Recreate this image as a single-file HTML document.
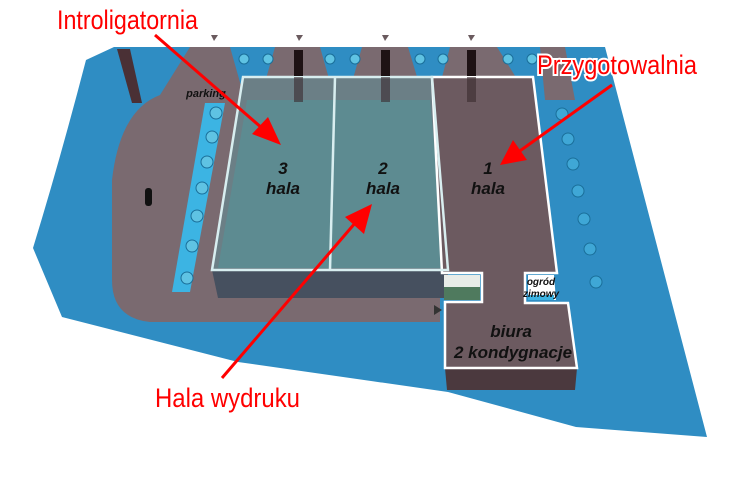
<!DOCTYPE html>
<html><head><meta charset="utf-8"><style>
html,body{margin:0;padding:0;background:#fff;width:742px;height:480px;overflow:hidden}
svg{display:block}
.lbl{font-family:"Liberation Sans Narrow","Liberation Sans",sans-serif;fill:#f00;stroke:#fff;stroke-width:4px;paint-order:stroke;font-size:27px}
.h{font-family:"Liberation Sans",sans-serif;font-weight:bold;font-style:italic;fill:#111;text-anchor:middle}
</style></head><body>
<svg width="742" height="480" viewBox="0 0 742 480" xmlns="http://www.w3.org/2000/svg">
<!-- blue ground -->
<path d="M86,60 L114,47 L605,47 L707,437 L576,427 L448,392 L238,362 L62,317 L33,248 Q60,160 86,60 Z" fill="#2f8dc3"/>
<!-- grey parking / roads -->
<path d="M190,47 L565,47 L575,100 L440,100 L440,322 L150,322 Q112,318 112,280 L112,180 Q120,110 160,95 Z" fill="#7a6a70"/>
<g fill="#2f8dc3">
<polygon points="230,47 275,47 260,100 245,100"/>
<polygon points="320,47 362,47 347,100 335,100"/>
<polygon points="408,47 450,47 436,100 424,100"/>
<polygon points="497,47 540,47 545,100 530,100"/>
</g>
<g fill="#5fc3e3" stroke="#1a6f9a" stroke-width="1">
<circle cx="244" cy="59" r="5"/><circle cx="268" cy="59" r="5"/>
<circle cx="330" cy="59" r="5"/><circle cx="355" cy="59" r="5"/>
<circle cx="420" cy="59" r="5"/><circle cx="443" cy="59" r="5"/>
<circle cx="508" cy="59" r="5"/><circle cx="532" cy="59" r="5"/>
</g>
<polygon points="205,103 225,103 190,292 172,292" fill="#3cb4e3"/>
<g fill="#5fc3e3" stroke="#1a6f9a" stroke-width="1">
<circle cx="216" cy="113" r="6"/><circle cx="212" cy="137" r="6"/><circle cx="207" cy="162" r="6"/><circle cx="202" cy="188" r="6"/><circle cx="197" cy="216" r="6"/><circle cx="192" cy="246" r="6"/><circle cx="187" cy="278" r="6"/>
</g>
<g fill="#3fa7d6" stroke="#1a6f9a" stroke-width="1">
<circle cx="562" cy="114" r="6"/><circle cx="568" cy="139" r="6"/><circle cx="573" cy="164" r="6"/><circle cx="578" cy="191" r="6"/><circle cx="584" cy="219" r="6"/><circle cx="590" cy="249" r="6"/><circle cx="596" cy="282" r="6"/>
</g>
<polygon points="117,49 130,49 142,103 132,103" fill="#4a3035"/>
<rect x="145" y="188" width="7" height="18" rx="3" fill="#111"/>
<g fill="#6a5a5e"><polygon points="211,35 218,35 214,41"/><polygon points="296,35 303,35 299,41"/><polygon points="382,35 389,35 385,41"/><polygon points="468,35 475,35 471,41"/></g>
<!-- building depth -->
<polygon points="212,270 448,270 448,298 218,298" fill="#46505f"/>
<polygon points="445,368 577,368 575,390 447,390" fill="#4b393e"/>
<!-- halls 3 & 2 roof -->
<polygon points="243,77 432,77 448,270 212,270" fill="#6b7f86"/>
<polygon points="247,100 430,100 445,268 218,268" fill="#5c8d92" opacity="0.9"/>
<!-- hall 1 -->
<path d="M432,77 L533,77 L557,273 L525,273 L525,303 L568,303 L577,368 L445,368 L445,302 L482,302 L482,273 L442,273 Z" fill="#6c5a60" stroke="#fff" stroke-width="2.5"/>
<polygon points="444,275 480,275 480,300 444,300" fill="#4f7a5e"/>
<polygon points="444,275 480,275 480,287 444,287" fill="#e8ece8"/>
<polygon points="528,275 554,275 556,300 528,300" fill="#fff"/>
<rect x="528" y="295" width="26" height="5" fill="#3cb4e3"/>
<g fill="none" stroke="#d8eef0" stroke-width="2.5">
<polygon points="243,77 432,77 448,270 212,270"/>
<line x1="335" y1="77" x2="330" y2="270"/>
</g>
<g fill="#1e1214"><rect x="294" y="50" width="9" height="26"/><rect x="381" y="50" width="9" height="26"/><rect x="467" y="50" width="9" height="26"/></g>
<g fill="#3a2a2e" opacity="0.6"><rect x="294" y="77" width="9" height="25"/><rect x="381" y="77" width="9" height="25"/><rect x="467" y="77" width="9" height="25"/></g>
<polygon points="434,305 442,310 434,315" fill="#333"/>
<text class="h" font-size="11" x="206" y="97">parking</text>
<text class="h" font-size="17" x="283" y="174">3</text><text class="h" font-size="17" x="283" y="194">hala</text>
<text class="h" font-size="17" x="383" y="174">2</text><text class="h" font-size="17" x="383" y="194">hala</text>
<text class="h" font-size="17" x="488" y="174">1</text><text class="h" font-size="17" x="488" y="194">hala</text>
<text class="h" font-size="10" x="541" y="285">ogród</text><text class="h" font-size="10" x="541" y="297">zimowy</text>
<text class="h" font-size="17" x="511" y="337">biura</text><text class="h" font-size="17" x="513" y="358">2 kondygnacje</text>
<g stroke="#f00" stroke-width="3" fill="none">
<line x1="155" y1="35" x2="270" y2="135"/>
<line x1="612" y1="85" x2="510" y2="158"/>
<line x1="222" y1="378" x2="362" y2="215"/>
</g>
<g fill="#f00">
<polygon points="281,145 252,134 268,117"/>
<polygon points="500,165 513,140 527,160"/>
<polygon points="372,204 364,234 345,217"/>
</g>
<text class="lbl" x="57" y="29" textLength="141" lengthAdjust="spacingAndGlyphs">Introligatornia</text>
<text class="lbl" x="537" y="74" textLength="160" lengthAdjust="spacingAndGlyphs">Przygotowalnia</text>
<text class="lbl" x="155" y="407" textLength="145" lengthAdjust="spacingAndGlyphs">Hala wydruku</text>
</svg>
</body></html>
